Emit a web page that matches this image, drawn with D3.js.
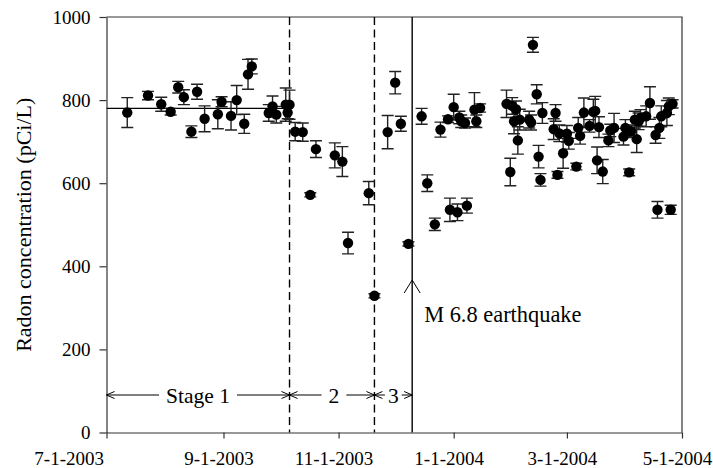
<!DOCTYPE html>
<html>
<head>
<meta charset="utf-8">
<script src="https://cdn.jsdelivr.net/npm/d3@7"></script>
<style>
  body { margin: 0; background: #fff; }
  svg { display: block; }
  text { font-family: "Liberation Serif", "Times New Roman", serif; fill: #000; }
</style>
</head>
<body>
<svg id="chart" width="713" height="468"></svg>
<script>
// sampling dates (m-d-y on the axis)
var dates = [
  "2003-07-12","2003-07-23","2003-07-30","2003-08-04","2003-08-08","2003-08-11","2003-08-15","2003-08-18",
  "2003-08-22","2003-08-29","2003-08-31","2003-09-05","2003-09-08","2003-09-12","2003-09-14","2003-09-16",
  "2003-09-25","2003-09-27","2003-09-29","2003-10-04","2003-10-05","2003-10-06",
  "2003-10-09","2003-10-13","2003-10-17","2003-10-20","2003-10-30","2003-11-03","2003-11-06","2003-11-17","2003-11-20",
  "2003-11-27","2003-12-01","2003-12-04","2003-12-08",
  "2003-12-15","2003-12-18","2003-12-22","2003-12-25","2003-12-29","2003-12-30","2004-01-01","2004-01-03",
  "2004-01-04","2004-01-05","2004-01-07","2004-01-08","2004-01-12","2004-01-13","2004-01-15",
  "2004-01-29","2004-01-31","2004-02-01","2004-02-02","2004-02-03","2004-02-04","2004-02-05","2004-02-10",
  "2004-02-11","2004-02-12","2004-02-14","2004-02-15","2004-02-16","2004-02-17","2004-02-23","2004-02-24",
  "2004-02-25","2004-02-26","2004-02-28","2004-03-01","2004-03-02","2004-03-06","2004-03-07","2004-03-08",
  "2004-03-10","2004-03-13","2004-03-15","2004-03-16","2004-03-17","2004-03-18","2004-03-20","2004-03-23",
  "2004-03-24","2004-03-26","2004-03-31","2004-04-01","2004-04-03","2004-04-04","2004-04-06","2004-04-07",
  "2004-04-08","2004-04-09","2004-04-12","2004-04-14","2004-04-17","2004-04-18","2004-04-19","2004-04-20",
  "2004-04-23","2004-04-24","2004-04-25","2004-04-26"
];

// radon concentration, pCi/L
var radon = [
  770, 811, 790, 772, 831, 807, 724, 820,
  755, 766, 796, 762, 800, 743, 862, 881,
  769, 785, 765, 789, 770, 789,
  724, 723, 572, 682, 667, 652, 456, 576, 329,
  723, 842, 743, 454,
  761, 600, 501, 729, 754, 536, 783, 530,
  758, 749, 745, 546, 777, 749, 781,
  791, 627, 786, 749, 778, 703, 753, 753,
  746, 933, 814, 664, 608, 769, 730, 769,
  620, 720, 672, 719, 702, 640, 733, 714,
  770, 738, 772, 774, 655, 735, 628, 703,
  727, 733, 712, 733, 626, 725, 753, 706,
  749, 757, 761, 793, 716, 536, 733, 761,
  769, 785, 536, 791
];

// +/- error, pCi/L
var errors = [
  36, 10, 17, 8, 14, 18, 14, 18,
  31, 35, 12, 34, 35, 23, 36, 18,
  20, 25, 20, 40, 15, 35,
  22, 22, 5, 20, 30, 36, 26, 28, 5,
  40, 27, 18, 5,
  19, 20, 15, 18, 8, 28, 31, 20,
  15, 15, 12, 18, 41, 15, 10,
  33, 33, 20, 30, 20, 33, 25, 20,
  18, 18, 23, 27, 15, 25, 25, 20,
  8, 20, 36, 20, 20, 8, 25, 20,
  35, 15, 30, 35, 32, 25, 29, 15,
  15, 35, 20, 20, 8, 15, 20, 32,
  20, 20, 25, 39, 20, 20, 25, 25,
  30, 20, 11, 10
];

var yTicks = [0, 200, 400, 600, 800, 1000];
var xTickDates = ["2003-07-01", "2003-09-01", "2003-11-01", "2004-01-01", "2004-03-01", "2004-05-01"];
var stageBounds = ["2003-07-01", "2003-10-06", "2003-11-20", "2003-12-10"];
var stageLabels = ["Stage 1", "2", "3"];
var quakeDate = "2003-12-10";
var quakeLabel = "M 6.8 earthquake";
var baselineValue = 780;

var serif = '"Liberation Serif", "Times New Roman", serif';
var parse = d3.timeParse("%Y-%m-%d");
var svg = d3.select("#chart");

var x = d3.scaleTime()
  .domain([parse("2003-07-01"), parse("2004-05-01")])
  .range([106.5, 682]);
var y = d3.scaleLinear().domain([0, 1000]).range([432.5, 17]);

var plotTop = y(1000), plotBottom = y(0), plotLeft = x.range()[0], plotRight = x.range()[1];

// frame (top and right)
svg.append("path")
  .attr("d", "M" + plotLeft + "," + plotTop + "H" + plotRight + "V" + plotBottom)
  .attr("fill", "none").attr("stroke", "#333").attr("stroke-width", 1.2);

// stage boundaries
stageBounds.slice(1, 3).forEach(function(d) {
  svg.append("line")
    .attr("x1", x(parse(d))).attr("x2", x(parse(d)))
    .attr("y1", plotTop).attr("y2", plotBottom)
    .attr("stroke", "#000").attr("stroke-width", 1.4)
    .attr("stroke-dasharray", "8,4.5");
});
svg.append("line")
  .attr("x1", x(parse(quakeDate))).attr("x2", x(parse(quakeDate)))
  .attr("y1", plotTop).attr("y2", plotBottom)
  .attr("stroke", "#000").attr("stroke-width", 1.4);

// stage 1 mean line
svg.append("line")
  .attr("x1", plotLeft).attr("x2", x(parse(stageBounds[1])))
  .attr("y1", y(baselineValue)).attr("y2", y(baselineValue))
  .attr("stroke", "#000").attr("stroke-width", 1.3);

var data = dates.map(function(d, i) {
  return { date: parse(d), v: radon[i], e: errors[i] };
});

// error bars
var eb = svg.append("g").attr("stroke", "#222").attr("stroke-width", 1.4).attr("fill", "none");
eb.selectAll("path").data(data).enter().append("path")
  .attr("d", function(d) {
    var cx = x(d.date), y0 = y(d.v - d.e), y1 = y(d.v + d.e);
    return "M" + cx + "," + y0 + "V" + y1 +
      "M" + (cx - 6) + "," + y1 + "H" + (cx + 6) +
      "M" + (cx - 6) + "," + y0 + "H" + (cx + 6);
  });

// points
svg.append("g").selectAll("circle").data(data).enter().append("circle")
  .attr("cx", function(d) { return x(d.date); })
  .attr("cy", function(d) { return y(d.v); })
  .attr("r", 5.2)
  .attr("fill", "#000");

// axes
var xAxis = d3.axisBottom(x)
  .tickValues(xTickDates.map(parse))
  .tickFormat(d3.timeFormat("%-m-%-d-%Y"))
  .tickSizeInner(6).tickSizeOuter(0).tickPadding(13);
var gx = svg.append("g").attr("transform", "translate(0," + plotBottom + ")").call(xAxis);

var yAxis = d3.axisLeft(y).tickValues(yTicks).tickFormat(d3.format("d"))
  .tickSizeInner(7).tickSizeOuter(0).tickPadding(9);
var gy = svg.append("g").attr("transform", "translate(" + plotLeft + ",0)").call(yAxis);

[gx, gy].forEach(function(g) {
  g.attr("font-family", null).attr("font-size", null);
  g.select(".domain").attr("stroke", "#333").attr("stroke-width", 1.2);
  g.selectAll(".tick line").attr("stroke", "#333").attr("stroke-width", 1.2);
  g.selectAll(".tick text").style("font-family", serif)
    .style("font-size", "19px").attr("fill", "#000");
});
// date labels sit a little left of their ticks; the first one ends before the axis
gx.selectAll(".tick text")
  .attr("x", function(d, i) { return i == 0 ? -3 : -5; })
  .attr("text-anchor", function(d, i) { return i == 0 ? "end" : "middle"; });

svg.append("text")
  .attr("transform", "translate(31," + ((plotTop + plotBottom) / 2) + ") rotate(-90)")
  .attr("text-anchor", "middle")
  .style("font-size", "22px")
  .text("Radon concentration (pCi/L)");

// stage arrows
var ay = 395;
function arrowHead(x0, dir) {
  svg.append("path")
    .attr("d", "M" + (x0 - dir * 8) + "," + (ay - 3.5) + "L" + x0 + "," + ay + "L" + (x0 - dir * 8) + "," + (ay + 3.5))
    .attr("fill", "none").attr("stroke", "#000").attr("stroke-width", 1);
}
stageLabels.forEach(function(lab, i) {
  var x0 = x(parse(stageBounds[i])), x1 = x(parse(stageBounds[i + 1]));
  var cx = (x0 + x1) / 2 + (i == 1 ? 2 : 0);
  var t = svg.append("text")
    .attr("x", cx).attr("y", ay + 7.5)
    .attr("text-anchor", "middle").style("font-size", "21.5px")
    .text(lab);
  var w = t.node().getComputedTextLength();
  var gap = i == 2 ? 3 : 7;
  svg.append("line").attr("x1", x0).attr("x2", cx - w / 2 - gap)
    .attr("y1", ay).attr("y2", ay).attr("stroke", "#000").attr("stroke-width", 1);
  svg.append("line").attr("x1", cx + w / 2 + gap).attr("x2", x1)
    .attr("y1", ay).attr("y2", ay).attr("stroke", "#000").attr("stroke-width", 1);
  arrowHead(x0, -1);
  arrowHead(x1, 1);
});

// earthquake marker
var qx = x(parse(quakeDate));
svg.append("path")
  .attr("d", "M" + (qx - 8) + ",293L" + qx + ",280L" + (qx + 8) + ",293")
  .attr("fill", "none").attr("stroke", "#000").attr("stroke-width", 1);
svg.append("text")
  .attr("x", qx + 12).attr("y", 322)
  .style("font-size", "22.4px")
  .text(quakeLabel);
</script>
</body>
</html>
